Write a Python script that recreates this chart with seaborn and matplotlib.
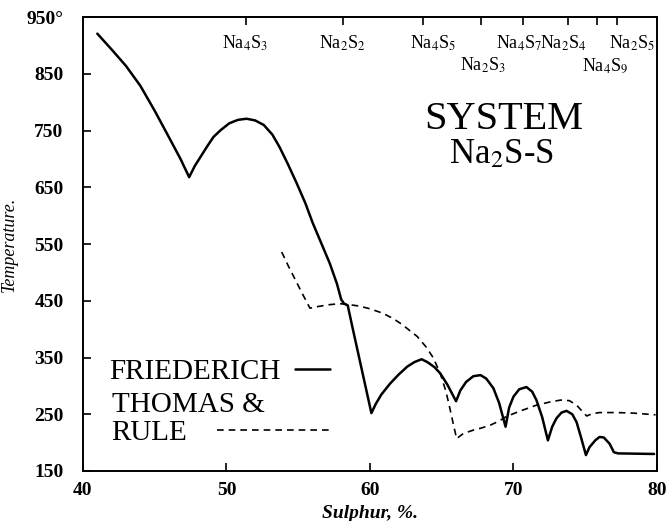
import numpy as np
import pandas as pd
import matplotlib
matplotlib.use("Agg")
import matplotlib.pyplot as plt
from matplotlib.lines import Line2D
import seaborn as sns

# Friederich liquidus (solid line)
friederich_s = [41.0, 42.0, 43.0, 44.0, 45.0, 46.0, 46.8, 47.4,
                47.8, 48.2, 48.7, 49.1, 49.6, 50.2, 50.8, 51.4, 52.0, 52.6, 53.2,
                53.7, 54.3, 54.9, 55.5, 56.0, 56.6, 57.2, 57.7, 58.0, 58.2, 58.45,
                58.8, 60.1,
                60.4, 60.8, 61.4, 62.0, 62.6, 63.1, 63.6, 64.0, 64.5, 64.9, 65.4, 66.0,
                66.3, 66.7, 67.2, 67.7, 68.1, 68.6, 69.0, 69.45,
                69.7, 70.0, 70.4, 70.9, 71.3, 71.6, 72.0, 72.4,
                72.7, 73.0, 73.35, 73.7, 74.1, 74.4, 74.7, 75.05,
                75.3, 75.7, 76.0, 76.3, 76.7, 77.0, 77.3, 79.8]
friederich_t = [921, 893, 864, 829, 785, 738, 700, 668,
                688, 704, 724, 739, 751, 763, 769, 771, 768, 760, 743,
                721, 690, 657, 622, 588, 552, 516, 480, 452, 445, 442,
                401, 252,
                268, 285, 304, 320, 334, 342, 347, 342, 333, 322, 302, 273,
                292, 307, 317, 319, 313, 296, 270, 228,
                262, 281, 294, 298, 290, 275, 245, 204,
                228, 243, 253, 256, 250, 236, 210, 178,
                192, 204, 210, 209, 198, 183, 181, 180]

# Thomas & Rule liquidus (dashed line)
thomas_s = [53.85, 54.3, 54.8, 55.3, 55.82, 56.4, 57.1, 57.9, 58.6, 59.2, 60.0,
            60.9, 61.6, 62.2, 62.6, 63.3, 63.9, 64.4, 64.9, 65.3, 65.6, 65.85,
            66.04, 66.5, 67.2, 67.8, 68.4, 69.0, 69.5, 70.5, 71.6, 72.6, 73.3,
            73.9, 74.4, 74.8, 75.1, 75.5, 76.0, 77.2, 78.4, 79.9]
thomas_t = [536, 512, 487, 462, 437, 440, 443, 445, 443, 441, 436,
            428, 419, 409, 401, 387, 369, 350, 322, 290, 257, 228,
            207, 216, 222, 226, 231, 238, 246, 256, 266, 272, 275,
            274, 266, 255, 247, 251, 253, 253, 252, 249]

# compounds: top tick positions and labels
compound_s = [51.34, 58.14, 63.67, 67.73, 70.68, 73.82, 75.80, 77.20]
compound_labels = [r"Na$_4$S$_3$", r"Na$_2$S$_2$", r"Na$_4$S$_5$", r"Na$_2$S$_3$",
                   r"Na$_4$S$_7$", r"Na$_2$S$_4$", r"Na$_4$S$_9$", r"Na$_2$S$_5$"]
label_s = [51.3, 58.05, 64.4, 67.9, 70.4, 73.45, 76.4, 78.3]
label_t = [904, 904, 904, 865, 904, 904, 865, 904]

x_ticks = [40, 50, 60, 70, 80]
y_ticks = [150, 250, 350, 450, 550, 650, 750, 850, 950]
y_ticklabels = ["150", "250", "350", "450", "550", "650", "750", "850", "950°"]

sns.set_theme(style="ticks")
plt.rcParams["font.family"] = ["Liberation Serif", "DejaVu Serif"]
plt.rcParams["mathtext.fontset"] = "stix"
plt.rcParams["text.color"] = "black"
plt.rcParams["axes.labelcolor"] = "black"

fig = plt.figure(figsize=(6.69, 5.21), dpi=100)
ax = fig.add_axes([0.124, 0.096, 0.858, 0.871])

df_f = pd.DataFrame({"sulphur": friederich_s, "temp": friederich_t})
df_t = pd.DataFrame({"sulphur": thomas_s, "temp": thomas_t})
sns.lineplot(data=df_f, x="sulphur", y="temp", ax=ax, color="black",
             linewidth=1.8, sort=False, estimator=None, legend=False)
sns.lineplot(data=df_t, x="sulphur", y="temp", ax=ax, color="black",
             linewidth=1.2, linestyle=(0, (4, 3)), sort=False, estimator=None,
             legend=False)

ax.set_xlim(40, 80)
ax.set_ylim(150, 950)
ax.set_xticks(x_ticks)
ax.set_xticklabels([str(v) for v in x_ticks], fontsize=14, fontweight="bold")
ax.set_yticks(y_ticks)
ax.set_yticklabels(y_ticklabels, fontsize=14, fontweight="bold")
ax.tick_params(direction="in", length=6, width=1.2, colors="black", pad=8)
ax.tick_params(axis="y", pad=14)
for sp in ax.spines.values():
    sp.set_linewidth(1.4)
    sp.set_color("black")
    sp.set_visible(True)

top = ax.secondary_xaxis("top")
top.set_xticks(compound_s)
top.set_xticklabels([""] * len(compound_s))
top.tick_params(direction="in", length=6, width=1.2, colors="black")

for lab, s, t in zip(compound_labels, label_s, label_t):
    ax.text(s, t, lab, ha="center", va="center", fontsize=13)

ax.text(69.3, 770, "SYSTEM", ha="center", va="center", fontsize=29)
ax.text(69.2, 707, r"Na$_2$S-S", ha="center", va="center", fontsize=25)

ax.set_xlabel("Sulphur, %.", fontsize=14, fontstyle="italic", fontweight="bold",
              labelpad=4)
ax.set_ylabel("Temperature.", fontsize=13, fontstyle="italic", labelpad=6)

solid, dashed = ax.lines[0], ax.lines[1]
leg1 = ax.legend([solid], ["FRIEDERICH"], loc="lower left",
                 bbox_to_anchor=(0.045, 0.19), markerfirst=False, frameon=False,
                 handlelength=1.2, handletextpad=0.5, fontsize=21, borderpad=0,
                 borderaxespad=0)
ax.add_artist(leg1)
blank = Line2D([], [], color="none")
leg2 = ax.legend([blank, dashed], ["THOMAS &", "RULE"], loc="lower left",
                 bbox_to_anchor=(0.05, 0.055), markerfirst=False, frameon=False,
                 handlelength=4.0, handletextpad=1.0, fontsize=21, borderpad=0,
                 borderaxespad=0, labelspacing=0.05)
# keep the rows left aligned so the dashed sample follows "RULE"
for col in leg2._legend_handle_box.get_children():
    col.align = "left"

fig.savefig("out.png", dpi=100)
plt.close(fig)
